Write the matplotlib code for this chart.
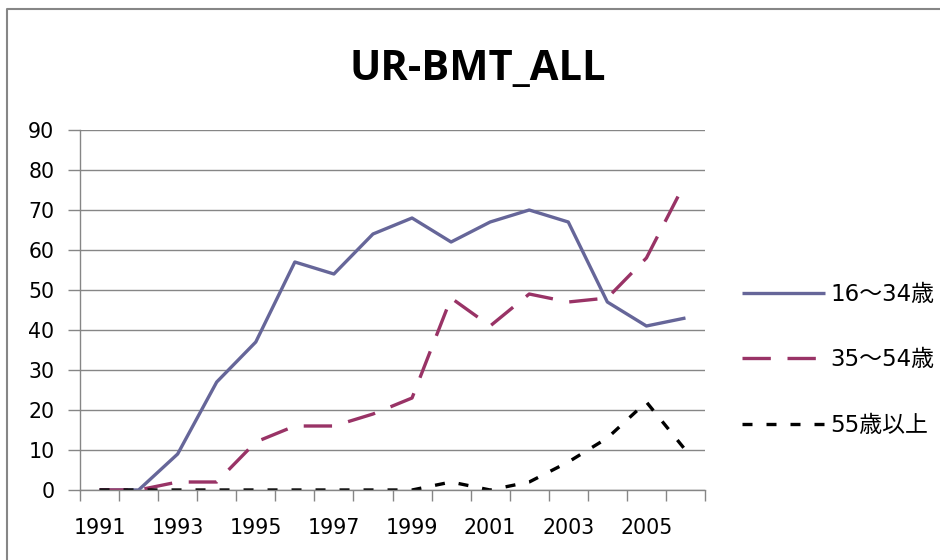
import matplotlib
matplotlib.use("Agg")
import matplotlib.pyplot as plt
from matplotlib.lines import Line2D

plt.rcParams['font.family'] = ['DejaVu Sans', 'Noto Sans CJK JP']

years = list(range(1991, 2007))
tick_labels = ['1991', '1993', '1995', '1997', '1999', '2001', '2003', '2005']
s_young = [0, 0, 9, 27, 37, 57, 54, 64, 68, 62, 67, 70, 67, 47, 41, 43]
s_mid = [0, 0, 2, 2, 12, 16, 16, 19, 23, 48, 41, 49, 47, 48, 58, 77]
s_old = [0, 0, 0, 0, 0, 0, 0, 0, 0, 2, 0, 2, 7, 13, 22, 10]
labels = ['16～34歳', '35～54歳', '55歳以上']
title = 'UR-BMT_ALL'

fig = plt.figure(figsize=(9.4, 5.6), dpi=100)
# outer chart border (only top and left edges visible in the reference)
fig.add_artist(Line2D([7.5/940, 7.5/940, 1.0], [0.0, 1 - 8.5/560, 1 - 8.5/560],
                      transform=fig.transFigure, color='#868686', lw=1.5))
ax = fig.add_axes([80/940, 70/560, 625/940, 360/560])

x = list(range(len(years)))
ax.plot(x, s_young, color='#666699', lw=2.4, label=labels[0], solid_capstyle='butt')
ax.plot(x, s_mid, color='#993366', lw=2.4, dashes=(8.5, 5), label=labels[1])
ax.plot(x, s_old, color='#000000', lw=2.4, dashes=(3.0, 4.2), label=labels[2])

ax.set_xlim(-0.5, len(years) - 0.5)
ax.set_ylim(0, 90)
ax.set_yticks(range(0, 91, 10))
ax.yaxis.grid(True, color='#868686', lw=1.0)
ax.set_axisbelow(True)

ax.set_xticks(x[::2])
ax.set_xticklabels(tick_labels)
ax.set_xticks([i - 0.5 for i in range(len(years) + 1)], minor=True)
ax.tick_params(axis='x', which='major', length=0, pad=20, labelsize=14.8)
ax.tick_params(axis='x', which='minor', length=8, color='#868686', width=1.0)
ax.tick_params(axis='y', length=9, color='#868686', width=1.0, labelsize=14.8, pad=9.4)

for sp in ['top', 'right']:
    ax.spines[sp].set_visible(False)
for sp in ['left', 'bottom']:
    ax.spines[sp].set_color('#868686')
    ax.spines[sp].set_linewidth(1.0)

fig.text(477.5/940, 1 - 80/560, title, ha='center', va='baseline', fontsize=30,
         fontweight='bold', family=['Open Sans', 'DejaVu Sans'])

ax.legend(loc='center left', bbox_to_anchor=(662/625, 130/360), frameon=False,
          fontsize=16.5, handlelength=3.6, handletextpad=0.25, labelspacing=1.85,
          borderaxespad=0, borderpad=0)

fig.savefig('out.png', dpi=100)
